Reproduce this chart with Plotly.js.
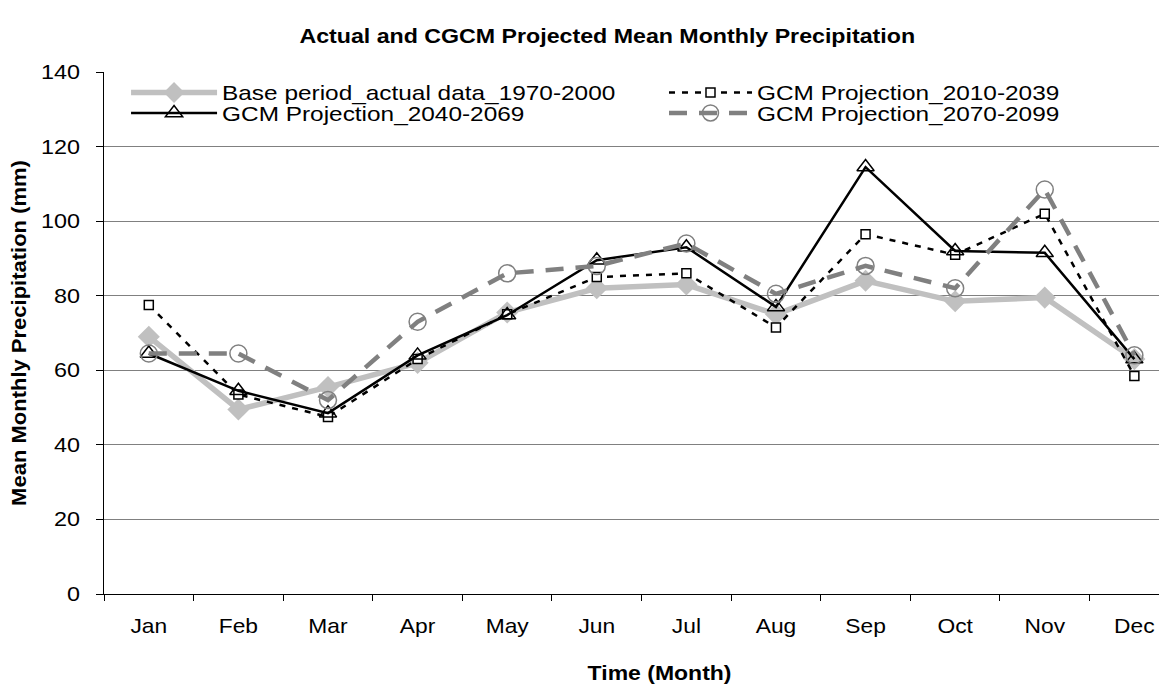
<!DOCTYPE html>
<html>
<head>
<meta charset="utf-8">
<script src="https://cdn.plot.ly/plotly-3.0.1.min.js"></script>
<style>html,body{margin:0;padding:0;background:#fff;overflow:hidden;}#chart{width:1159px;height:685px;}</style>
</head>
<body>
<div id="chart"></div>
<script>
const months = ["Jan","Feb","Mar","Apr","May","Jun","Jul","Aug","Sep","Oct","Nov","Dec"];
const base_1970_2000 = [69, 49.5, 55.5, 62, 75.5, 82, 83, 75, 84, 78.5, 79.5, 63];
const gcm_2010_2039 = [77.5, 53.5, 47.5, 63, 75, 85, 86, 71.5, 96.5, 91, 102, 58.5];
const gcm_2040_2069 = [64.5, 54.5, 48.5, 64, 74.8, 89.5, 93, 77, 114.5, 92, 91.5, 63];
const gcm_2070_2099 = [64.5, 64.5, 52, 73, 86, 88, 94, 80.5, 88, 82, 108.5, 64];
const seriesNames = ["Base period_actual data_1970-2000","GCM Projection_2010-2039","GCM Projection_2040-2069","GCM Projection_2070-2099"];
const yTicks = [0, 20, 40, 60, 80, 100, 120, 140];

const font = "Liberation Sans, Arial, sans-serif";
const traces = [
  {x: months, y: base_1970_2000, name: seriesNames[0], legend: "legend", type: "scatter", mode: "lines+markers",
   line: {color: "#c0c0c0", width: 5.5},
   marker: {symbol: "diamond", size: 17, color: "#c0c0c0"}},
  {x: months, y: gcm_2010_2039, name: seriesNames[1], legend: "legend2", type: "scatter", mode: "lines+markers",
   line: {color: "#000000", width: 2.5, dash: "6px,7px"},
   marker: {symbol: "square", size: 9, color: "#ffffff", line: {color: "#000000", width: 1.5}}},
  {x: months, y: gcm_2040_2069, name: seriesNames[2], legend: "legend3", type: "scatter", mode: "lines+markers",
   line: {color: "#000000", width: 2.5},
   marker: {symbol: "triangle-up-open", size: 15, color: "#000000", line: {width: 1.5}}},
  {x: months, y: gcm_2070_2099, name: seriesNames[3], legend: "legend4", type: "scatter", mode: "lines+markers",
   line: {color: "#808080", width: 4.5, dash: "18px,12px"},
   marker: {symbol: "circle-open", size: 17, color: "#808080", line: {width: 1.5}}}
];

function legendCfg(x, y, iw, ew) {
  return {x: x, y: y, xanchor: "left", yanchor: "middle", orientation: "h", itemwidth: iw,
          entrywidth: ew, entrywidthmode: "pixels",
          font: {family: font, size: 20, color: "#000"}, bgcolor: "rgba(0,0,0,0)", borderwidth: 0};
}

const layout = {
  width: 1159, height: 685,
  paper_bgcolor: "#ffffff", plot_bgcolor: "#ffffff",
  margin: {l: 104, r: 0, t: 72, b: 91, pad: 0, autoexpand: false},
  font: {family: font, color: "#000", size: 20},
  title: {text: "Actual and CGCM Projected Mean Monthly Precipitation",
          font: {family: font, size: 20, color: "#000", weight: "bold"},
          xref: "paper", x: 0.477, xanchor: "center", y: 0.947, yanchor: "middle"},
  showlegend: true,
  legend: legendCfg(0.0209, 0.9607, 86, 440),
  legend2: legendCfg(0.5308, 0.9607, 83, 340),
  legend3: legendCfg(0.0209, 0.9215, 86, 440),
  legend4: legendCfg(0.5308, 0.9215, 83, 340),
  xaxis: {type: "category", range: [-0.5, 11.275], tickson: "boundaries", ticks: "outside",
          ticklen: 6, tickcolor: "#000", tickwidth: 1, showline: true, linecolor: "#000", linewidth: 1,
          showgrid: false, zeroline: false, tickfont: {family: font, size: 20, color: "#000"},
          ticklabelstandoff: 14, fixedrange: true},
  yaxis: {range: [0, 140], tickvals: yTicks, ticks: "outside", ticklen: 7,
          tickcolor: "#000", tickwidth: 1, showline: true, linecolor: "#000", linewidth: 1,
          showgrid: true, gridcolor: "#808080", gridwidth: 1, zeroline: false,
          tickfont: {family: font, size: 20, color: "#000"}, ticklabelstandoff: 12,
          title: {text: "Mean Monthly Precipitation (mm)", font: {family: font, size: 20, color: "#000", weight: "bold"}, standoff: 14},
          fixedrange: true},
  annotations: [
    {text: "Time (Month)", xref: "paper", yref: "paper", x: 0.527, y: -0.151, xanchor: "center", yanchor: "middle",
     showarrow: false, font: {family: font, size: 20, color: "#000", weight: "bold"}}
  ]
};

function stretchX(el, s) {
  const x = parseFloat(el.getAttribute("x")) || 0;
  const suffix = "translate(" + x + ",0) scale(" + s + ",1) translate(" + (-x) + ",0)";
  const cur = (el.getAttribute("transform") || "").trim();
  if (cur.endsWith(suffix)) return;
  el.setAttribute("transform", (cur + " " + suffix).trim());
}

function applyStretch() {
  const gd = document.getElementById("chart");
  gd.querySelectorAll(".gtitle").forEach(function (t) { stretchX(t, 1.16); });
  gd.querySelectorAll("g.xtick text").forEach(function (t) { stretchX(t, 1.14); });
  gd.querySelectorAll("g.ytick text").forEach(function (t) { stretchX(t, 1.17); });
  gd.querySelectorAll(".ytitle").forEach(function (t) { stretchX(t, 1.1); });
  gd.querySelectorAll("text.legendtext, g[class^='legend'] g.traces text").forEach(function (t) { stretchX(t, 1.22); });
  gd.querySelectorAll(".annotation-text").forEach(function (t) { stretchX(t, 1.15); });
}

Plotly.newPlot("chart", traces, layout, {displayModeBar: false, staticPlot: true}).then(function (gd) {
  applyStretch();
  gd.on("plotly_afterplot", applyStretch);
  if (window.MutationObserver) {
    const obs = new MutationObserver(function () { applyStretch(); });
    obs.observe(gd, {childList: true, subtree: true});
  }
  [0, 50, 150, 300, 600, 1000].forEach(function (d) { setTimeout(applyStretch, d); });
});
</script>
</body>
</html>
